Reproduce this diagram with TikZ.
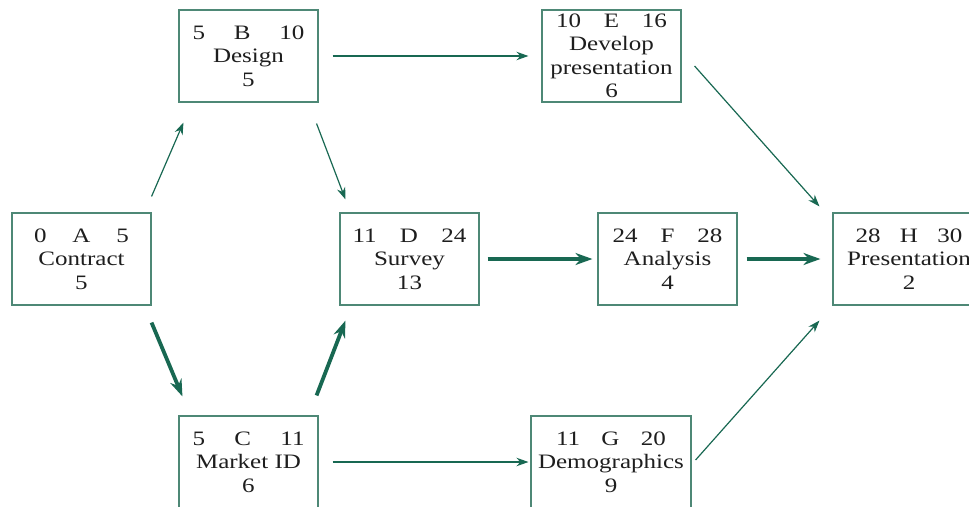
\documentclass[tikz,border=0pt]{standalone}
\usepackage{fontspec}
\setmainfont{Liberation Serif}[FakeStretch=1.22]
\usetikzlibrary{arrows.meta}

\definecolor{edgegreen}{RGB}{24,104,82}
\definecolor{boxline}{RGB}{78,136,118}
\definecolor{inkgrey}{RGB}{30,30,30}

% top row of an activity box: early start, activity letter, early finish
\newcommand{\actrow}[4]{\makebox[#1pt][s]{#2\hfill #3\hfill #4}}

\tikzset{
  actbox/.style={draw=boxline, line width=1.1pt, minimum width=139pt,
    minimum height=92pt, align=center, inner sep=0pt, text=inkgrey,
    font=\fontsize{20.5}{23.5}\selectfont},
  thinlink/.style={draw=edgegreen, line width=1.2pt,
    -{Stealth[length=12pt,width=8.5pt]}},
  critlink/.style={draw=edgegreen, line width=3.8pt,
    -{Stealth[length=17pt,width=12pt]}},
}

\begin{document}
\begin{tikzpicture}[x=1pt,y=-1pt]
  \useasboundingbox (0,0) rectangle (969,506);

  \begin{scope}
    \clip (0,0) rectangle (969,506);

    % activity boxes
    \node[actbox] (A) at (81.5,259) {\actrow{95}{0}{A}{5}\\Contract\\5};
    \node[actbox] (B) at (248.5,56) {\actrow{112}{5}{B}{10}\\Design\\5};
    \node[actbox] (C) at (248.5,462) {\actrow{112}{5}{C}{11}\\Market ID\\6};
    \node[actbox] (D) at (409.5,259) {\actrow{114}{11}{D}{24}\\Survey\\13};
    \node[actbox] (E) at (611.5,56) {\actrow{111}{10}{E}{16}\\Develop\\presentation\\6};
    \node[actbox] (F) at (667.5,259) {\actrow{110}{24}{F}{28}\\Analysis\\4};
    \node[actbox, minimum width=160pt] (G) at (611,462) {\actrow{110}{11}{G}{20}\\Demographics\\9};
    \node[actbox, minimum width=152pt] (H) at (909,259) {\actrow{107}{28}{H}{30}\\Presentation\\2};

    % ordinary precedence links
    \draw[thinlink] ([yshift=16pt]A.north east) -- ([xshift=5pt,yshift=-20pt]B.south west);
    \draw[thinlink] ([xshift=14pt]B.east) -- ([xshift=-13pt]E.west);
    \draw[thinlink] ([xshift=-2pt,yshift=-21pt]B.south east) -- ([xshift=6pt,yshift=13pt]D.north west);
    \draw[thinlink] ([xshift=13pt,yshift=-10pt]E.east) -- ([xshift=-13pt,yshift=6pt]H.north west);
    \draw[thinlink] ([xshift=14pt]C.east) -- ([xshift=-2pt]G.west);
    \draw[thinlink] ([xshift=4pt,yshift=2pt]G.east) -- ([xshift=-13pt,yshift=-15pt]H.south west);

    % critical path
    \draw[critlink] ([yshift=-17pt]A.south east) -- ([xshift=4pt,yshift=19pt]C.north west);
    \draw[critlink] ([xshift=-2pt,yshift=20pt]C.north east) -- ([xshift=6pt,yshift=-15pt]D.south west);
    \draw[critlink] ([xshift=8pt]D.east) -- ([xshift=-5pt]F.west);
    \draw[critlink] ([xshift=9pt]F.east) -- ([xshift=-12pt]H.west);
  \end{scope}
\end{tikzpicture}
\end{document}
